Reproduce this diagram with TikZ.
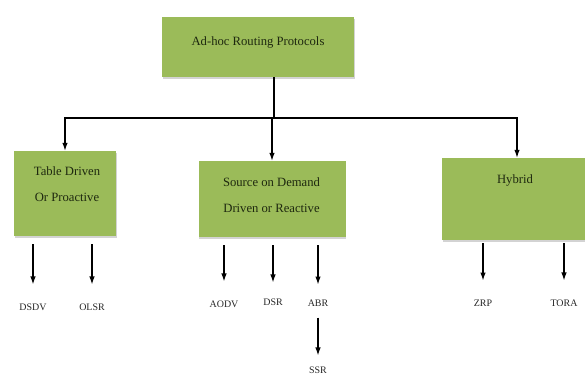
\documentclass[tikz,border=0pt]{standalone}
\usepackage{fontspec}
\setmainfont{Liberation Serif}
\usetikzlibrary{arrows.meta,shadows}
\definecolor{boxgreen}{RGB}{155,187,89}
\definecolor{txtdark}{RGB}{30,40,15}
\begin{document}
\begin{tikzpicture}[x=1bp,y=-1bp,
  box/.style={fill=boxgreen,draw=none,drop shadow={shadow xshift=0.6bp,shadow yshift=-2bp,opacity=0.35}},
  boxtxt/.style={align=center,text=txtdark,inner sep=0pt,font=\fontsize{12.7}{26}\selectfont},
  leaf/.style={inner sep=0pt,text=black!85,font=\fontsize{10}{12}\selectfont},
  arr/.style={-{Latex[length=8bp,width=5.5bp]},line width=1.2bp},
  down/.style={arr,shorten <=8bp,shorten >=19bp}]
\useasboundingbox (0,0) rectangle (585,376);
\clip (0,0) rectangle (585,376);      % right box runs off the page
% boxes
\node[box,minimum width=192bp,minimum height=60bp] (root) at (258,47) {};
\node[boxtxt] (roottxt) at (258,42) {Ad-hoc Routing Protocols};
\node[box,minimum width=102bp,minimum height=85bp] (tbl) at (65,193.5) {};
\node[boxtxt] (tbltxt) at (67,184) {Table Driven\\Or Proactive};
\node[box,minimum width=147bp,minimum height=76bp] (src) at (272,199) {};
\node[boxtxt] (srctxt) at (271.5,195) {Source on Demand\\Driven or Reactive};
\node[box,minimum width=150bp,minimum height=82bp] (hyb) at (517,199) {};
\node[boxtxt] (hybtxt) at (515,180) {Hybrid};
% protocols
\node[leaf] (dsdv) at (33,307) {DSDV};
\node[leaf] (olsr) at (92,307) {OLSR};
\node[leaf] (aodv) at (224,304) {AODV};
\node[leaf] (dsr) at (273,302) {DSR};
\node[leaf] (abr) at (318,303) {ABR};
\node[leaf] (ssr) at (318,370) {SSR};
\node[leaf] (zrp) at (483,303) {ZRP};
\node[leaf] (tora) at (564,303) {TORA};
% tree lines
\coordinate (bus) at (274,118);
\draw[line width=1.2bp] (root.south -| bus) -- (bus);
\draw[arr] (bus) -| (tbl.north);
\draw[arr] (bus) -| (hyb.north);
\draw[arr] (src.north |- bus) -- (src.north);
\draw[down] (tbl.south -| dsdv) -- (dsdv);
\draw[down] (tbl.south -| olsr) -- (olsr);
\draw[down] (src.south -| aodv) -- (aodv);
\draw[down,shorten >=16bp] (src.south -| dsr) -- (dsr);
\draw[down,shorten >=15bp] (src.south -| abr) -- (abr);
\draw[arr,shorten <=11bp,shorten >=11bp] (abr) -- (ssr);
\draw[down,shorten <=3bp] (hyb.south -| zrp) -- (zrp);
\draw[down,shorten <=3bp] (hyb.south -| tora) -- (tora);
\end{tikzpicture}
\end{document}
